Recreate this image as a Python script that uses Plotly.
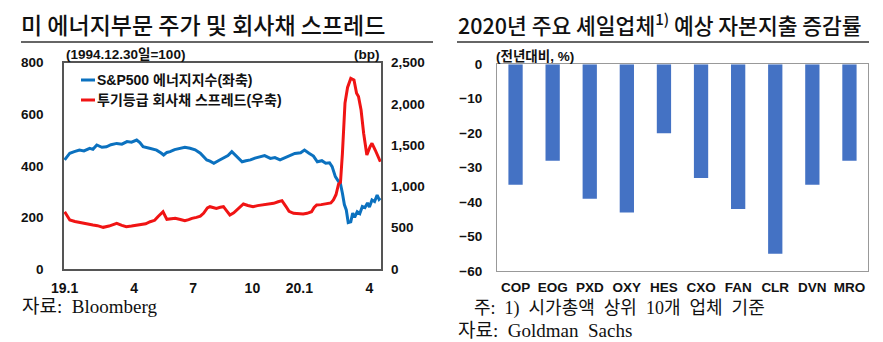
import plotly.graph_objects as go

W, H = 883, 342

# ---------------- left chart data ----------------
energy_dates = [
    "2019-01-02", "2019-01-07", "2019-01-10", "2019-01-17", "2019-01-25", "2019-02-01",
    "2019-02-10", "2019-02-15", "2019-02-21", "2019-03-01", "2019-03-08", "2019-03-15",
    "2019-03-24", "2019-04-01", "2019-04-09", "2019-04-16", "2019-04-24", "2019-04-29",
    "2019-05-04", "2019-05-14", "2019-05-25", "2019-06-01", "2019-06-05", "2019-06-10",
    "2019-06-15", "2019-06-22", "2019-07-01", "2019-07-08", "2019-07-16", "2019-07-24",
    "2019-08-01", "2019-08-06", "2019-08-11", "2019-08-16", "2019-08-22", "2019-08-29",
    "2019-09-06", "2019-09-13", "2019-09-19", "2019-09-26", "2019-10-05", "2019-10-11",
    "2019-10-18", "2019-10-25", "2019-11-02", "2019-11-09", "2019-11-18", "2019-11-25",
    "2019-12-03", "2019-12-10", "2019-12-19", "2019-12-26", "2020-01-04", "2020-01-10",
    "2020-01-17", "2020-01-24", "2020-01-30", "2020-02-06", "2020-02-12", "2020-02-18",
    "2020-02-22", "2020-02-27", "2020-03-03", "2020-03-06", "2020-03-09", "2020-03-12",
    "2020-03-15", "2020-03-18", "2020-03-22", "2020-03-25", "2020-03-28", "2020-04-01",
    "2020-04-05", "2020-04-09", "2020-04-13", "2020-04-17", "2020-04-20", "2020-04-24",
    "2020-04-28", "2020-05-02", "2020-05-05", "2020-05-07",
]
energy_index = [
    423, 440, 449, 455, 461, 458,
    468, 464, 481, 472, 474, 482,
    487, 484, 494, 492, 500, 490,
    474, 468, 461, 450, 442, 452,
    455, 463, 468, 472, 468, 462,
    449, 436, 423, 418, 410, 420,
    429, 440, 455, 438, 416, 420,
    423, 430, 436, 440, 429, 432,
    423, 430, 442, 448, 451, 461,
    449, 438, 416, 420, 410, 412,
    397, 358, 339, 330, 294, 250,
    229, 180, 183, 217, 200, 222,
    215, 242, 238, 256, 240, 268,
    262, 287, 270, 275,
]

spread_dates = [
    "2019-01-02", "2019-01-06", "2019-01-10", "2019-01-18", "2019-01-26", "2019-02-05",
    "2019-02-15", "2019-02-22", "2019-03-03", "2019-03-12", "2019-03-20", "2019-03-24",
    "2019-04-01", "2019-04-08", "2019-04-16", "2019-04-29", "2019-05-08", "2019-05-15",
    "2019-05-22", "2019-05-27", "2019-06-01", "2019-06-04", "2019-06-10", "2019-06-16",
    "2019-06-23", "2019-07-01", "2019-07-08", "2019-07-14", "2019-07-19", "2019-07-26",
    "2019-08-01", "2019-08-06", "2019-08-12", "2019-08-16", "2019-08-21", "2019-08-26",
    "2019-09-01", "2019-09-06", "2019-09-11", "2019-09-16", "2019-09-22", "2019-09-27",
    "2019-10-02", "2019-10-07", "2019-10-14", "2019-10-22", "2019-10-29", "2019-11-07",
    "2019-11-14", "2019-11-23", "2019-11-30", "2019-12-06", "2019-12-12", "2019-12-17",
    "2019-12-24", "2020-01-01", "2020-01-08", "2020-01-14", "2020-01-21", "2020-01-25",
    "2020-01-29", "2020-02-05", "2020-02-14", "2020-02-20", "2020-02-24", "2020-02-28",
    "2020-03-03", "2020-03-06", "2020-03-09", "2020-03-11", "2020-03-13", "2020-03-17",
    "2020-03-22", "2020-03-27", "2020-03-31", "2020-04-03", "2020-04-07", "2020-04-11",
    "2020-04-16", "2020-04-21", "2020-04-24", "2020-04-29", "2020-05-07",
]
hy_spread = [
    694, 640, 594, 575, 561, 548,
    533, 525, 505, 520, 545, 554,
    528, 513, 520, 533, 548, 573,
    590, 634, 680, 694, 602, 610,
    614, 600, 585, 598, 614, 626,
    640, 675, 740, 755, 742, 735,
    748, 755, 705, 654, 680, 715,
    760, 788, 770, 755, 768, 776,
    782, 796, 815, 828, 760, 700,
    675, 672, 666, 675, 694, 745,
    776, 780, 788, 800, 836, 900,
    1030, 1050, 1400, 1724, 2010, 2200,
    2310, 2290, 2129, 2090, 1927, 1645,
    1381, 1482, 1523, 1442, 1300,
]

left_tickvals = ["2019-01-02", "2019-04-20", "2019-07-21", "2019-10-21", "2020-01-02", "2020-04-20"]
left_ticktext = ["19.1", "4", "7", "10", "20.1", "4"]

# ---------------- right chart data ----------------
companies = ["COP", "EOG", "PXD", "OXY", "HES", "CXO", "FAN", "CLR", "DVN", "MRO"]
capex_change = [-35, -28, -39, -43, -20, -33, -42, -55, -35, -28]

BLUE = "#0b71bf"
RED = "#f01414"
BAR = "#4472c4"
SANS = "Liberation Sans, Arial, Noto Sans CJK KR"
KR = "Noto Sans CJK KR"
SERIF = "Liberation Serif, Noto Sans CJK KR"


def px(x):
    return x / W


def py(y):
    return 1 - y / H


fig = go.Figure()
fig.add_trace(go.Scatter(x=energy_dates, y=energy_index, mode="lines", xaxis="x", yaxis="y",
                         line=dict(color=BLUE, width=3), name="S&P500 에너지지수(좌축)", showlegend=False))
fig.add_trace(go.Scatter(x=spread_dates, y=hy_spread, mode="lines", xaxis="x", yaxis="y2",
                         line=dict(color=RED, width=3), name="투기등급 회사채 스프레드(우축)", showlegend=False))
fig.add_trace(go.Bar(x=companies, y=capex_change, xaxis="x2", yaxis="y3", marker=dict(color=BAR, line=dict(width=0)),
                     showlegend=False))

tickfont = dict(family=SANS, size=13.5, color="#111", weight="bold")

fig.update_layout(
    width=W, height=H, margin=dict(l=0, r=0, t=0, b=0, autoexpand=False),
    paper_bgcolor="white", plot_bgcolor="white",
    bargap=0.615,
    xaxis=dict(domain=[px(64), px(381)], anchor="y", type="date", automargin=False,
               range=["2019-01-01", "2020-05-08"], tickvals=left_tickvals, ticktext=left_ticktext,
               tickfont=dict(family=SANS, size=14, color="#111", weight="bold"), ticks="",
               showgrid=False, zeroline=False, showline=True, mirror=True, linecolor="#555", linewidth=1.5,
               ticklabelstandoff=5),
    yaxis=dict(domain=[py(269), py(62.7)], anchor="x", range=[0, 800], tickvals=[0, 200, 400, 600, 800],
               automargin=False,
               tickfont=tickfont, ticks="", showgrid=False, zeroline=False,
               showline=True, mirror=True, linecolor="#555", linewidth=1.5, ticklabelstandoff=16),
    yaxis2=dict(overlaying="y", side="right", anchor="x", range=[0, 2500], automargin=False,
                tickvals=[0, 500, 1000, 1500, 2000, 2500], tickformat=",",
                tickfont=tickfont, ticks="", showgrid=False, zeroline=False, showline=False,
                ticklabelstandoff=9),
    xaxis2=dict(domain=[px(497), px(868)], anchor="y3", type="category", automargin=False,
                tickfont=tickfont, ticks="", showgrid=False, zeroline=False,
                showline=True, mirror=True, linecolor="#999", linewidth=1.2, ticklabelstandoff=4),
    yaxis3=dict(domain=[py(271), py(64.3)], anchor="x2", range=[-60, 0], dtick=10, automargin=False,
                tickfont=tickfont, ticks="", showgrid=False, zeroline=False,
                showline=True, mirror=True, linecolor="#999", linewidth=1.2, ticklabelstandoff=11),
)

ann = []


def note(text, x, y, font, xanchor="left"):
    ann.append(dict(text=text, x=px(x), y=py(y), xref="paper", yref="paper", xanchor=xanchor,
                    yanchor="middle", showarrow=False, font=font))


note("미 에너지부문 주가 및 회사채 스프레드", 19, 24, dict(family=KR, size=23, color="#111", weight=500))
note("2020년 주요 셰일업체<sup>1)</sup> 예상 자본지출 증감률", 456, 24,
     dict(family=KR, size=21.5, color="#111", weight=500))
note("(1994.12.30일=100)", 64, 54, dict(family=SANS, size=13.5, color="#111", weight="bold"))
note("(bp)", 381, 54, dict(family=SANS, size=13.5, color="#111", weight="bold"), xanchor="right")
note("(전년대비, %)", 494, 56, dict(family=SANS, size=13.5, color="#111", weight="bold"))
note("S&P500 에너지지수(좌축)", 95, 80, dict(family=SANS, size=14, color="#111", weight="bold"))
note("투기등급 회사채 스프레드(우축)", 95, 100, dict(family=SANS, size=14, color="#111", weight="bold"))
note("자료:  Bloomberg", 20, 306, dict(family=SERIF, size=19, color="#111"))
note("주:  1)  시가총액  상위  10개  업체  기준", 472, 308, dict(family=SERIF, size=18, color="#111"))
note("자료:  Goldman  Sachs", 456, 330, dict(family=SERIF, size=19, color="#111"))
fig.update_layout(annotations=ann)

shapes = [
    dict(type="line", xref="paper", yref="paper", x0=px(21), x1=px(433), y0=py(42), y1=py(42),
         line=dict(color="#333", width=1.5)),
    dict(type="line", xref="paper", yref="paper", x0=px(457), x1=px(869), y0=py(42), y1=py(42),
         line=dict(color="#333", width=1.5)),
    dict(type="line", xref="paper", yref="paper", x0=px(81), x1=px(95), y0=py(80), y1=py(80),
         line=dict(color=BLUE, width=3)),
    dict(type="line", xref="paper", yref="paper", x0=px(81), x1=px(95), y0=py(100), y1=py(100),
         line=dict(color=RED, width=3)),
]
fig.update_layout(shapes=shapes)

fig.write_html("out.html")
